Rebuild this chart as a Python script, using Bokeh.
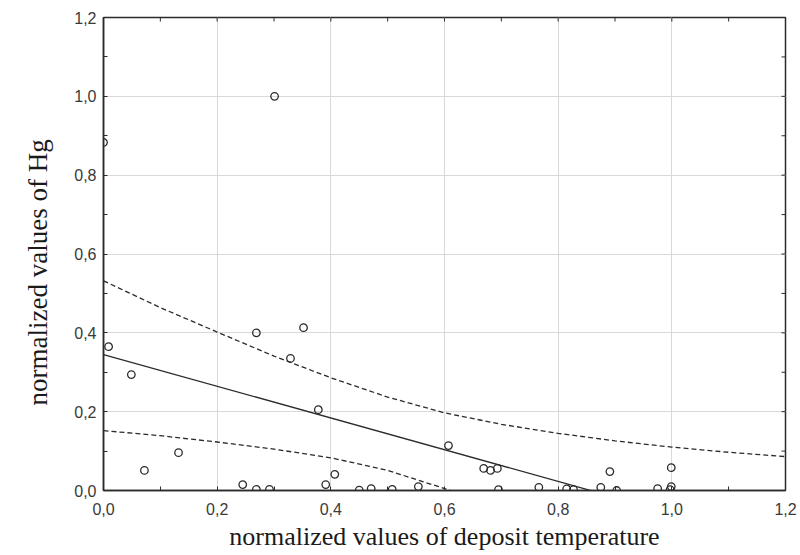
import math
from bokeh.plotting import figure
from bokeh.models import LinearAxis, FixedTicker, Range1d, ColumnDataSource, Grid, Title
from bokeh.embed import file_html
from bokeh.resources import INLINE

# ---- data ----
pts_x = [0.000, 0.009, 0.049, 0.072, 0.132, 0.245, 0.269, 0.269, 0.292, 0.301,
         0.352, 0.329, 0.378, 0.391, 0.407, 0.450, 0.471, 0.508, 0.554, 0.607,
         0.669, 0.681, 0.693, 0.695, 0.766, 0.815, 0.827, 0.875, 0.891, 0.903,
         0.975, 0.999, 0.999, 0.997]
pts_y = [0.883, 0.365, 0.294, 0.051, 0.096, 0.015, 0.400, 0.003, 0.003, 1.000,
         0.413, 0.335, 0.205, 0.015, 0.041, 0.001, 0.005, 0.003, 0.010, 0.114,
         0.056, 0.051, 0.056, 0.002, 0.008, 0.004, 0.002, 0.008, 0.048, 0.000,
         0.005, 0.058, 0.010, 0.002]

fit_x = [0.0, 1.2]
fit_y = [0.345, -0.138]

band_x = [0.0, 0.1, 0.2, 0.3, 0.4, 0.5, 0.6, 0.7, 0.8, 0.9, 1.0, 1.1, 1.2]
band_upper = [0.532, 0.464, 0.402, 0.341, 0.286, 0.237, 0.197, 0.168, 0.145,
              0.126, 0.110, 0.097, 0.086]
band_lower = [0.152, 0.139, 0.123, 0.105, 0.083, 0.051, 0.005, -0.045, -0.100,
              -0.165, -0.226, -0.290, -0.360]

major_ticks = [0.0, 0.2, 0.4, 0.6, 0.8, 1.0, 1.2]
minor_ticks = [0.1, 0.3, 0.5, 0.7, 0.9, 1.1]
tick_labels = ["0,0", "0,2", "0,4", "0,6", "0,8", "1,0", "1,2"]

x_title = "normalized values of deposit temperature"
y_title = "normalized values of Hg"

INK = "#2b2b2b"
X_MAX = 1.2
Y_MAX = 1.2

p = figure(frame_width=682, frame_height=473,
           x_range=Range1d(0, X_MAX), y_range=Range1d(0, Y_MAX),
           output_backend="svg", toolbar_location=None,
           min_border_left=103, min_border_right=14, min_border_top=17,
           min_border_bottom=60, x_axis_location=None, y_axis_location=None)
p.background_fill_color = "white"
p.border_fill_color = "white"
p.outline_line_color = INK
p.outline_line_width = 1.5

overrides = {t: l for t, l in zip(major_ticks, tick_labels)}


def make_axis(label_standoff):
    ax = LinearAxis(ticker=FixedTicker(ticks=major_ticks, minor_ticks=minor_ticks))
    ax.axis_line_color = INK
    ax.axis_line_width = 1.5
    ax.major_tick_in = 4
    ax.major_tick_out = 0
    ax.minor_tick_in = 4
    ax.minor_tick_out = 0
    ax.major_tick_line_color = INK
    ax.minor_tick_line_color = INK
    ax.major_label_overrides = overrides
    ax.major_label_text_font = "Liberation Sans"
    ax.major_label_text_font_size = "16px"
    ax.major_label_text_color = "#3a3a3a"
    ax.major_label_standoff = label_standoff
    return ax


xb = make_axis(12)
xb.axis_label = x_title
xb.axis_label_text_font = "Liberation Serif"
xb.axis_label_text_font_size = "26px"
xb.axis_label_text_font_style = "normal"
xb.axis_label_text_color = "#1a1a1a"
xb.axis_label_standoff = 4
p.add_layout(xb, "below")
p.add_layout(make_axis(7), "left")

# y-axis title as a side title (rotated), shifted along the axis with offset
p.add_layout(Title(text=y_title, align="left", offset=85,
                   text_font="Liberation Serif", text_font_size="27px",
                   text_font_style="normal", text_color="#1a1a1a",
                   standoff=38), "left")

# inward ticks on the top and right frame edges (half of each dash is clipped)
all_ticks = sorted(major_ticks + minor_ticks)
p.scatter(all_ticks, [Y_MAX] * len(all_ticks), marker="dash", angle=math.pi / 2,
          size=8, line_color=INK, line_width=1)
p.scatter([X_MAX] * len(all_ticks), all_ticks, marker="dash",
          size=8, line_color=INK, line_width=1)

p.add_layout(Grid(dimension=0, ticker=FixedTicker(ticks=major_ticks),
                  grid_line_color="#d9d9d9", grid_line_width=1))
p.add_layout(Grid(dimension=1, ticker=FixedTicker(ticks=major_ticks),
                  grid_line_color="#d9d9d9", grid_line_width=1))

p.line(band_x, band_upper, line_color=INK, line_width=1.3, line_dash="5 3")
p.line(band_x, band_lower, line_color=INK, line_width=1.3, line_dash="5 3")
p.line(fit_x, fit_y, line_color=INK, line_width=1.3)

src = ColumnDataSource(dict(x=pts_x, y=pts_y))
p.scatter("x", "y", source=src, marker="circle", size=7.5, fill_color=None,
          line_color=INK, line_width=1.3)

open("out.html", "w").write(file_html(p, INLINE))
